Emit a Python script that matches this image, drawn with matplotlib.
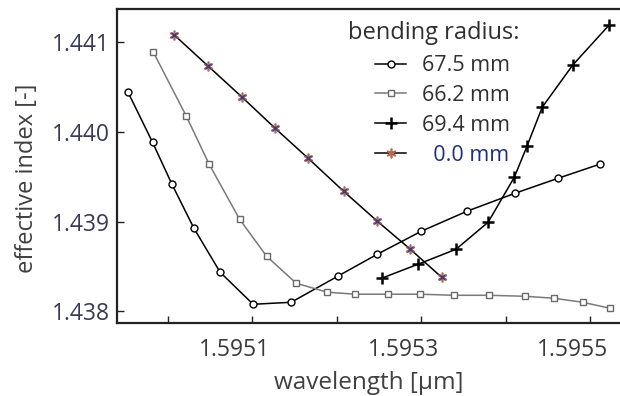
import matplotlib
matplotlib.use("Agg")
import matplotlib.pyplot as plt
import matplotlib.transforms as mtransforms
from matplotlib.ticker import FixedLocator

plt.rcParams["font.family"] = ["Open Sans", "DejaVu Sans"]

# bending radius 67.5 mm (open circles)
wl_675 = [1.594953, 1.594982, 1.595005, 1.595031, 1.595062, 1.595101, 1.595146,
          1.595201, 1.595248, 1.595300, 1.595354, 1.595411, 1.595462, 1.595511]
n_675 = [1.440443, 1.439885, 1.439417, 1.438926, 1.438436, 1.438079, 1.438101,
         1.438391, 1.438637, 1.438893, 1.439116, 1.439317, 1.439484, 1.439640]

# bending radius 66.2 mm (open squares)
wl_662 = [1.594983, 1.595022, 1.595049, 1.595085, 1.595117, 1.595152, 1.595189, 1.595222,
          1.595260, 1.595299, 1.595339, 1.595380, 1.595423, 1.595457, 1.595491, 1.595523]
n_662 = [1.440889, 1.440175, 1.439640, 1.439027, 1.438614, 1.438313, 1.438213, 1.438191,
         1.438191, 1.438191, 1.438179, 1.438179, 1.438168, 1.438146, 1.438101, 1.438035]

# bending radius 69.4 mm (plus)
wl_694 = [1.595253, 1.595296, 1.595341, 1.595379, 1.595410, 1.595425, 1.595443, 1.595479, 1.595522]
n_694 = [1.438369, 1.438525, 1.438692, 1.438993, 1.439495, 1.439841, 1.440275, 1.440744, 1.441190]

# bending radius 0.0 mm (stars)
wl_00 = [1.595008, 1.595048, 1.595088, 1.595127, 1.595166, 1.595208, 1.595248, 1.595287, 1.595324]
n_00 = [1.441078, 1.440732, 1.440387, 1.440041, 1.439707, 1.439339, 1.439004, 1.438692, 1.438380]

labels = ["67.5 mm", "66.2 mm", "69.4 mm", "  0.0 mm"]
xticks = [1.5951, 1.5953, 1.5955]
xminor = [1.5950, 1.5952, 1.5954]
yticks = [1.438, 1.439, 1.440, 1.441]

fig = plt.figure(figsize=(6.2, 3.96), dpi=100)
ax = fig.add_axes([0.1887, 0.1843, 0.8113, 0.793])

h1, = ax.plot(wl_675, n_675, color="black", lw=1.1, marker="o", ms=5,
              mfc="white", mec="black", mew=1.0)
h2, = ax.plot(wl_662, n_662, color="#7a7a7a", lw=1.1, marker="s", ms=5,
              mfc="white", mec="#6a6a6a", mew=1.0)
h3, = ax.plot(wl_694, n_694, color="black", lw=1.1, marker="+", ms=8, mew=1.8)
h4, = ax.plot(wl_00, n_00, color="black", lw=1.1, marker=(6, 2, 0), ms=7,
              mec="#b06a50", mew=1.2)
ax.plot(wl_00, n_00, ls="none", marker="x", ms=4.5, mec="#3a3a8a", mew=1.0)

ax.set_xlim(1.59494, 1.595535)
ax.set_ylim(1.43787, 1.44137)

ax.xaxis.set_major_locator(FixedLocator(xticks))
ax.xaxis.set_minor_locator(FixedLocator(xminor))
ax.set_xticklabels([f"{v:.4f}" for v in xticks])
ax.set_yticks(yticks)
ax.set_yticklabels([f"{v:.3f}" for v in yticks])

ax.tick_params(which="both", direction="in", length=5, width=1.0, color="#222222")
ax.tick_params(axis="x", labelsize=16.5, labelcolor="#3a3a3a", pad=11)
ax.tick_params(axis="y", labelsize=16.5, labelcolor="#3a3a58", pad=5)

# the x labels sit a little left of their ticks in the original
shift = mtransforms.ScaledTranslation(-0.18, 0, fig.dpi_scale_trans)
for lab in ax.get_xticklabels():
    lab.set_transform(lab.get_transform() + shift)

for side in ("left", "bottom", "top"):
    ax.spines[side].set_linewidth(1.6)
    ax.spines[side].set_color("#222222")
ax.spines["right"].set_visible(False)

ax.set_xlabel("wavelength [\u03bcm]", fontsize=17.5, color="#404040", labelpad=6)
ax.set_ylabel("effective index [-]", fontsize=17, color="#404040", labelpad=6)
ax.yaxis.set_label_coords(-0.155, 0.46)

ax.text(0.459, 0.924, "bending radius:", transform=ax.transAxes, fontsize=17,
        color="#303030", ha="left", va="center")
leg = ax.legend([h1, h2, h3, h4], labels, frameon=False,
                loc="upper left", bbox_to_anchor=(0.513, 0.853), fontsize=15.5,
                handlelength=1.44, handletextpad=0.74, labelspacing=0.41,
                borderpad=0, borderaxespad=0)
for txt in leg.get_texts():
    txt.set_color("#303030")
leg.get_texts()[3].set_color("#1f2f7f")

fig.savefig("out.png", dpi=100)
